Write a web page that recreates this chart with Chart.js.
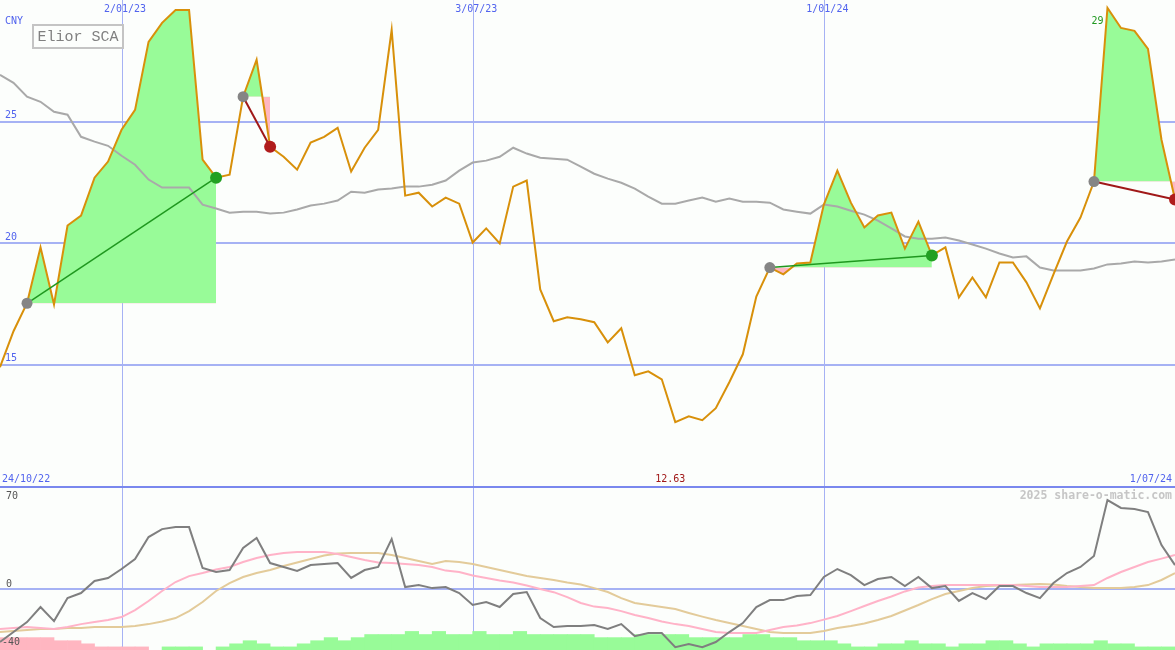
<!DOCTYPE html>
<html>
<head>
<meta charset="utf-8">
<title>Elior SCA</title>
<script src="https://cdn.jsdelivr.net/npm/chart.js@4.4.1/dist/chart.umd.min.js"></script>
<style>
  html, body { margin: 0; padding: 0; background: #fcfefc; }
  #wrap { position: relative; width: 1175px; height: 650px; overflow: hidden; }
  #wrap canvas { position: absolute; left: 0; }
</style>
</head>
<body>
<div id="wrap">
  <canvas id="pricePanel" width="1175" height="486" style="top:0"></canvas>
  <canvas id="studyPanel" width="1175" height="164" style="top:486px"></canvas>
</div>
<script>
// Weekly closes (CNY), 24/10/22 .. 1/07/24
const price = [
  14.89, 16.37, 17.52, 19.82, 17.47, 20.72, 21.13, 22.69, 23.35, 24.66,
  25.48, 28.28, 29.06, 29.59, 29.59, 23.43, 22.69, 22.81, 26.02, 27.54,
  23.96, 23.55, 23.02, 24.13, 24.37, 24.74, 22.94, 23.92, 24.66, 28.77,
  21.95, 22.07, 21.50, 21.87, 21.62, 20.02, 20.60, 19.98, 22.32, 22.57,
  18.09, 16.78, 16.94, 16.86, 16.74, 15.91, 16.49, 14.56, 14.72, 14.39,
  12.63, 12.87, 12.71, 13.20, 14.27, 15.42, 17.80, 18.99, 18.71, 19.16,
  19.20, 21.58, 22.98, 21.66, 20.64, 21.13, 21.25, 19.77, 20.88, 19.49,
  19.82, 17.76, 18.58, 17.76, 19.20, 19.20, 18.38, 17.31, 18.71, 20.06,
  21.05, 22.53, 29.67, 28.85, 28.73, 27.99, 24.25, 21.79
];

// Moving average of the close
const priceAvg = [
  26.92, 26.59, 26.02, 25.81, 25.40, 25.28, 24.37, 24.17, 24.00, 23.59,
  23.22, 22.61, 22.28, 22.28, 22.28, 21.58, 21.42, 21.25, 21.29, 21.29,
  21.21, 21.25, 21.38, 21.54, 21.62, 21.75, 22.11, 22.07, 22.20, 22.24,
  22.32, 22.32, 22.40, 22.57, 22.98, 23.31, 23.39, 23.55, 23.92, 23.68,
  23.51, 23.47, 23.43, 23.14, 22.85, 22.65, 22.48, 22.24, 21.91, 21.62,
  21.62, 21.75, 21.87, 21.70, 21.83, 21.70, 21.70, 21.66, 21.38, 21.29,
  21.21, 21.58, 21.50, 21.33, 21.17, 20.92, 20.60, 20.27, 20.18, 20.18,
  20.23, 20.10, 19.94, 19.77, 19.57, 19.40, 19.45, 18.99, 18.87, 18.87,
  18.87, 18.95, 19.12, 19.16, 19.24, 19.20, 19.24, 19.32
];

// Oscillator and its two signal averages (lower panel)
const momentum = [
  -36.5, -29.6, -22.7, -12.3, -22.0, -6.1, -2.6, 5.7, 7.8, 14.0,
  20.9, 36.1, 41.6, 43.0, 43.0, 14.7, 11.9, 13.3, 28.5, 35.4,
  18.1, 15.4, 12.6, 16.7, 17.4, 18.1, 7.8, 13.3, 15.4, 34.7,
  1.5, 2.9, 0.8, 1.5, -2.6, -10.9, -8.8, -12.3, -3.3, -1.9,
  -19.9, -26.1, -25.4, -25.4, -24.7, -27.5, -24.1, -32.4, -30.3, -30.3,
  -40.0, -37.9, -40.0, -36.5, -29.6, -23.4, -12.3, -7.5, -7.5, -4.7,
  -4.0, 8.5, 14.0, 9.8, 2.9, 7.1, 8.5, 2.2, 8.5, 0.8,
  2.2, -8.1, -2.6, -6.8, 2.2, 2.2, -2.6, -6.1, 4.3, 11.2,
  15.4, 23.0, 61.7, 56.2, 55.5, 53.4, 30.6, 16.7
];
const momentumFast = [
  -27.5, -26.8, -26.1, -26.8, -27.5, -26.1, -24.1, -22.7, -21.3, -19.2,
  -14.4, -8.1, -1.2, 5.0, 9.1, 11.2, 13.6, 15.4, 18.8, 21.6,
  23.7, 25.0, 25.7, 25.7, 25.7, 24.4, 22.3, 20.2, 18.5, 18.1,
  17.4, 16.7, 15.4, 12.9, 11.9, 9.5, 7.8, 6.0, 4.7, 2.6,
  0.2, -2.0, -5.4, -9.5, -12.0, -13.0, -15.1, -17.8, -19.9, -22.3,
  -24.1, -25.4, -27.5, -29.6, -30.3, -30.3, -30.3, -28.2, -26.1, -25.1,
  -23.4, -21.0, -18.5, -15.1, -11.6, -8.1, -5.0, -1.5, 1.2, 2.2,
  2.9, 2.9, 2.9, 2.9, 2.9, 2.9, 2.2, 1.5, 1.5, 1.5,
  2.2, 2.9, 7.8, 11.9, 15.4, 18.8, 21.2, 23.7
];
const momentumSlow = [
  -29.6, -28.9, -28.2, -27.5, -27.5, -26.8, -26.8, -26.1, -26.1, -26.1,
  -25.4, -24.1, -22.3, -19.9, -15.1, -8.8, -1.2, 4.3, 8.5, 11.2,
  13.3, 16.1, 18.5, 20.9, 23.3, 24.7, 25.0, 25.0, 25.0, 23.7,
  21.6, 19.5, 17.4, 19.5, 18.8, 17.4, 15.4, 13.3, 11.2, 9.1,
  7.8, 6.4, 4.7, 3.3, 0.8, -1.9, -6.1, -9.5, -10.9, -12.3,
  -13.7, -16.4, -18.9, -21.3, -23.4, -25.4, -27.5, -29.6, -30.3, -30.3,
  -30.3, -28.9, -26.8, -25.4, -23.7, -21.3, -18.5, -14.7, -10.9, -6.8,
  -3.3, -1.2, 0.8, 2.2, 2.6, 2.9, 3.3, 3.6, 3.3, 2.2,
  1.5, 0.8, 0.8, 0.8, 1.5, 2.9, 6.4, 11.2
];

// Weekly strength blocks along the panel floor (selling / buying)
const flowDown = [4, 4, 4, 4, 3, 3, 2, 1, 1, 1, 1];
const flowUp = [
  null, null, null, null, null, null, null, null, null, null,
  null, null, 1, 1, 1, null, 1, 2, 3, 2,
  1, 1, 2, 3, 4, 3, 4, 5, 5, 5,
  6, 5, 6, 5, 5, 6, 5, 5, 6, 5,
  5, 5, 5, 5, 4, 4, 4, 5, 5, 5,
  5, 4, 4, 4, 4, 5, 5, 4, 4, 3,
  3, 3, 2, 1, 1, 2, 2, 3, 2, 2,
  1, 2, 2, 3, 3, 2, 1, 2, 2, 2,
  2, 3, 2, 2, 1, 1, 1, null
];

// Axis ticks and labels
const priceGrid = [15, 20, 25];
const dateTickIndex = [9, 35, 61];
const dateTickLabels = ['2/01/23', '3/07/23', '1/01/24'];
const firstDate = '24/10/22';
const lastDate = '1/07/24';
const currency = 'CNY';
const stockName = 'Elior SCA';
const studyLabels = [70, 0, -40];

// Trades: week index of entry and exit
const tradeEntry = [2, 18, 57, 81];
const tradeExit = [16, 20, 69, 87];

const lastIndex = price.length - 1;
const BG = '#fcfefc';
const GRID = '#a6b2f4';
const AXIS_BLUE = '#5264ee';
const MONO = '"DejaVu Sans Mono", "Liberation Mono", monospace';

const pts = arr => arr.map((v, i) => ({ x: i, y: v }));
const barPts = arr => arr.map((v, i) => ({ x: i + 0.5, y: v })).filter(p => p.y !== null);

const baseOptions = {
  responsive: false,
  animation: false,
  devicePixelRatio: 1,
  events: [],
  layout: { padding: 0, autoPadding: false },
  plugins: { legend: { display: false }, tooltip: { enabled: false } },
  elements: { point: { radius: 0 }, line: { tension: 0 } }
};

function vLines(chart) {
  const { ctx, scales: { x } } = chart;
  ctx.strokeStyle = GRID;
  ctx.lineWidth = 1;
  dateTickIndex.forEach(i => {
    const px = Math.round(x.getPixelForValue(i)) + 0.5;
    ctx.beginPath();
    ctx.moveTo(px, 0);
    ctx.lineTo(px, chart.height);
    ctx.stroke();
  });
}

// ---- price panel ----
const tradeSets = [];
tradeEntry.forEach((a, k) => {
  const b = tradeExit[k];
  const entryPrice = price[a];
  const won = price[b] >= entryPrice;
  const seg = [];
  for (let i = a; i <= b; i++) seg.push({ x: i, y: price[i] });
  // profit / loss area against the entry level
  tradeSets.push({
    data: seg,
    borderColor: 'rgba(0,0,0,0)',
    borderWidth: 0,
    fill: { target: { value: entryPrice }, above: '#98fb98', below: '#ffb6c1' },
    order: 5
  });
  // entry -> exit link with markers
  tradeSets.push({
    data: [{ x: a, y: entryPrice }, { x: b, y: price[b] }],
    borderColor: won ? '#1f981f' : '#a01818',
    borderWidth: won ? 1.5 : 2,
    pointRadius: [5.5, 6],
    pointBackgroundColor: ['#858585', won ? '#22a022' : '#b01c1c'],
    pointBorderWidth: 0,
    fill: false,
    order: 0
  });
});

const priceDecor = {
  id: 'priceDecor',
  beforeDraw(chart) {
    const { ctx, width, height, scales: { y } } = chart;
    ctx.save();
    ctx.fillStyle = BG;
    ctx.fillRect(0, 0, width, height);
    ctx.strokeStyle = GRID;
    ctx.lineWidth = 2;
    priceGrid.forEach(v => {
      const py = Math.round(y.getPixelForValue(v));
      ctx.beginPath();
      ctx.moveTo(0, py);
      ctx.lineTo(width, py);
      ctx.stroke();
    });
    vLines(chart);
    ctx.restore();
  },
  afterDatasetsDraw(chart) {
    const { ctx, width, height, scales: { x, y } } = chart;
    ctx.save();
    ctx.textBaseline = 'middle';
    ctx.font = '10px ' + MONO;
    ctx.fillStyle = AXIS_BLUE;
    ctx.textAlign = 'left';
    ctx.fillText(currency, 5, 21);
    priceGrid.forEach(v => ctx.fillText(String(v), 5, y.getPixelForValue(v) - 6));
    ctx.textAlign = 'center';
    dateTickIndex.forEach((i, k) => ctx.fillText(dateTickLabels[k], x.getPixelForValue(i) + 3.5, 9));
    ctx.textAlign = 'left';
    ctx.fillText(firstDate, 2, height - 7);
    ctx.textAlign = 'right';
    ctx.fillText(lastDate, width - 3, height - 7);

    // lowest and highest close
    let lo = 0, hi = 0;
    price.forEach((v, i) => { if (v < price[lo]) lo = i; if (v > price[hi]) hi = i; });
    ctx.textAlign = 'center';
    ctx.fillStyle = '#a01818';
    ctx.fillText(price[lo].toFixed(2), x.getPixelForValue(lo) - 5, height - 7);
    ctx.textAlign = 'right';
    ctx.fillStyle = '#1f981f';
    ctx.fillText(String(Math.floor(price[hi])), x.getPixelForValue(hi) - 4, y.getPixelForValue(price[hi]) + 13);

    // name box
    ctx.strokeStyle = '#c4c4c4';
    ctx.lineWidth = 2;
    ctx.fillStyle = BG;
    ctx.fillRect(33, 25, 90, 23);
    ctx.strokeRect(33, 25, 90, 23);
    ctx.fillStyle = '#808080';
    ctx.font = '15px "Liberation Mono", ' + MONO;
    ctx.textAlign = 'center';
    ctx.fillText(stockName, 78, 37);
    ctx.restore();
  }
};

new Chart(document.getElementById('pricePanel'), {
  type: 'line',
  data: {
    datasets: [
      ...tradeSets,
      { data: pts(price), borderColor: '#d8900a', borderWidth: 2, fill: false, order: 1 },
      { data: pts(priceAvg), borderColor: '#a9a9a9', borderWidth: 2, fill: false, order: 2 }
    ]
  },
  options: {
    ...baseOptions,
    scales: {
      x: { type: 'linear', min: 0, max: lastIndex, display: false },
      y: { type: 'linear', min: 10, max: 30, display: false }
    }
  },
  plugins: [priceDecor]
});

// ---- study panel ----
const studyDecor = {
  id: 'studyDecor',
  beforeDraw(chart) {
    const { ctx, width, scales: { y } } = chart;
    ctx.save();
    ctx.fillStyle = BG;
    ctx.fillRect(0, 0, width, chart.height);
    vLines(chart);
    ctx.strokeStyle = GRID;
    ctx.lineWidth = 2;
    const py = Math.round(y.getPixelForValue(0));
    ctx.beginPath();
    ctx.moveTo(0, py);
    ctx.lineTo(width, py);
    ctx.stroke();
    ctx.restore();
  },
  afterDraw(chart) {
    const { ctx, width, scales: { y } } = chart;
    ctx.save();
    ctx.fillStyle = '#7a88ee';
    ctx.fillRect(0, 0, width, 2);
    ctx.textBaseline = 'middle';
    ctx.font = '10px ' + MONO;
    ctx.fillStyle = '#555555';
    ctx.textAlign = 'left';
    ctx.fillText(String(studyLabels[0]), 6, y.getPixelForValue(studyLabels[0]) + 8);
    ctx.fillText(String(studyLabels[1]), 6, y.getPixelForValue(studyLabels[1]) - 5);
    ctx.fillText(String(studyLabels[2]), 2, y.getPixelForValue(studyLabels[2]) - 5);
    ctx.font = 'bold 11.5px ' + MONO;
    ctx.fillStyle = '#c6c6c6';
    ctx.textAlign = 'right';
    ctx.fillText('2025 share-o-matic.com', width - 3, 10);
    ctx.restore();
  }
};

new Chart(document.getElementById('studyPanel'), {
  type: 'line',
  data: {
    datasets: [
      { type: 'line', data: pts(momentum), borderColor: '#7f7f7f', borderWidth: 2, fill: false, yAxisID: 'y', order: 0 },
      { type: 'line', data: pts(momentumFast), borderColor: '#ffb3c8', borderWidth: 2, fill: false, yAxisID: 'y', order: 1 },
      { type: 'line', data: pts(momentumSlow), borderColor: '#e3cb9a', borderWidth: 2, fill: false, yAxisID: 'y', order: 2 },
      { type: 'bar', data: barPts(flowDown), backgroundColor: '#ffb6c1', borderWidth: 0, grouped: false,
        barPercentage: 1, categoryPercentage: 1, yAxisID: 'yFlow', order: 3 },
      { type: 'bar', data: barPts(flowUp), backgroundColor: '#98fb98', borderWidth: 0, grouped: false,
        barPercentage: 1, categoryPercentage: 1, yAxisID: 'yFlow', order: 3 }
    ]
  },
  options: {
    ...baseOptions,
    scales: {
      x: { type: 'linear', min: 0, max: lastIndex, display: false, offset: false },
      y: { type: 'linear', min: -42, max: 71.4, display: false },
      yFlow: { type: 'linear', min: 0, max: 53, display: false }
    }
  },
  plugins: [studyDecor]
});
</script>
</body>
</html>
